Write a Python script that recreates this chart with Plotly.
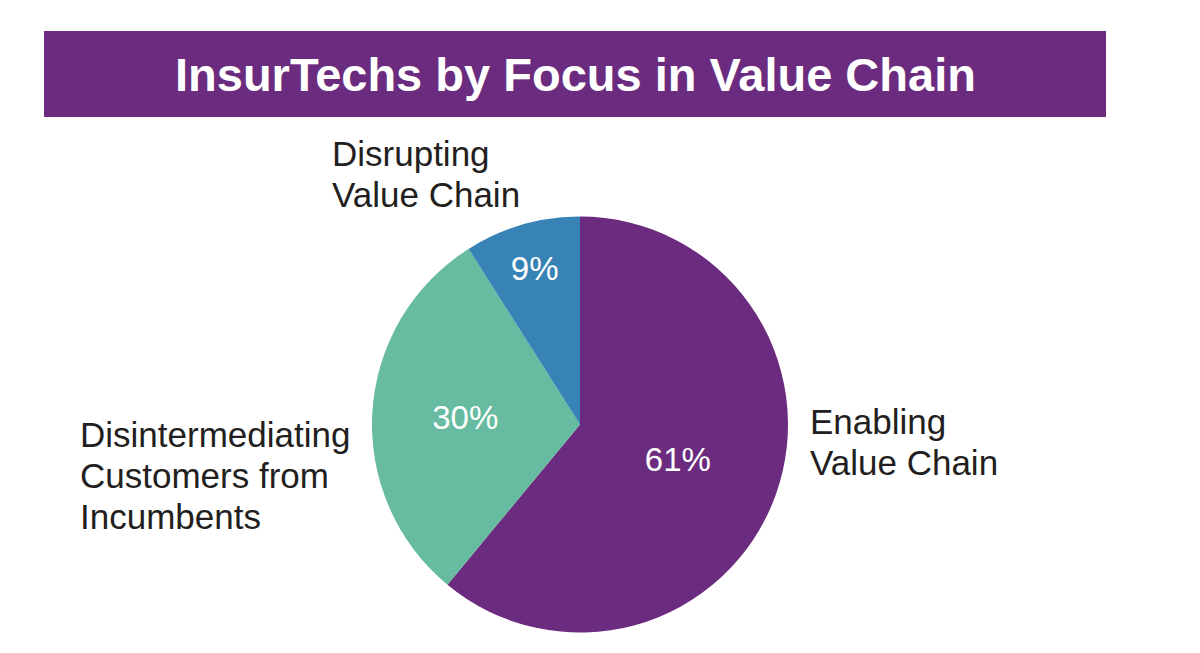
import plotly.graph_objects as go

# ---- data ----
categories = ["Enabling<br>Value Chain",
              "Disintermediating<br>Customers from<br>Incumbents",
              "Disrupting<br>Value Chain"]
values = [61, 30, 9]
colors = ["#6b2c7f", "#66bba0", "#3783b5"]
title_text = "InsurTechs by Focus in Value Chain"

W, H = 1200, 653
OX, OY = 8, 8  # page body offset compensation


def px(x):
    return (x - OX) / W


def py(y):
    return 1 - (y - OY) / H


# label placement (pixels): left x, centre y of first line, line pitch
label_pos = [(808, 421), (78, 434), (330, 153)]
pitch = 41

fig = go.Figure()
fig.add_trace(go.Pie(
    labels=categories,
    values=values,
    marker=dict(colors=colors, line=dict(width=0)),
    sort=False,
    direction="clockwise",
    rotation=0,
    textinfo="percent",
    texttemplate="%{percent:.0%}",
    textposition="inside",
    insidetextorientation="horizontal",
    insidetextfont=dict(family="Liberation Sans, Arial, sans-serif", size=33, color="white"),
    showlegend=False,
    hoverinfo="label+percent",
    domain=dict(x=[px(372), px(788)], y=[py(633), py(216)]),
))

annotations = []
for lab, (lx, ly) in zip(categories, label_pos):
    for i, line in enumerate(lab.split("<br>")):
        annotations.append(dict(
            text=line, x=px(lx), y=py(ly + i * pitch),
            xref="paper", yref="paper", xanchor="left", yanchor="middle",
            showarrow=False,
            font=dict(family="Liberation Sans, Arial, sans-serif", size=35, color="#231f20"),
        ))

annotations.append(dict(
    text="<b>" + title_text + "</b>", x=px(575), y=py(74),
    xref="paper", yref="paper", xanchor="center", yanchor="middle",
    showarrow=False,
    font=dict(family="Liberation Sans, Arial, sans-serif", size=47, color="white"),
))

fig.update_layout(
    width=W, height=H,
    margin=dict(l=0, r=0, t=0, b=0),
    paper_bgcolor="white",
    plot_bgcolor="white",
    shapes=[dict(type="rect", xref="paper", yref="paper",
                 x0=px(44), x1=px(1106), y0=py(117), y1=py(31),
                 fillcolor="#6b2c7f", line=dict(width=0), layer="below")],
    annotations=annotations,
)

fig.write_html("out.html")
